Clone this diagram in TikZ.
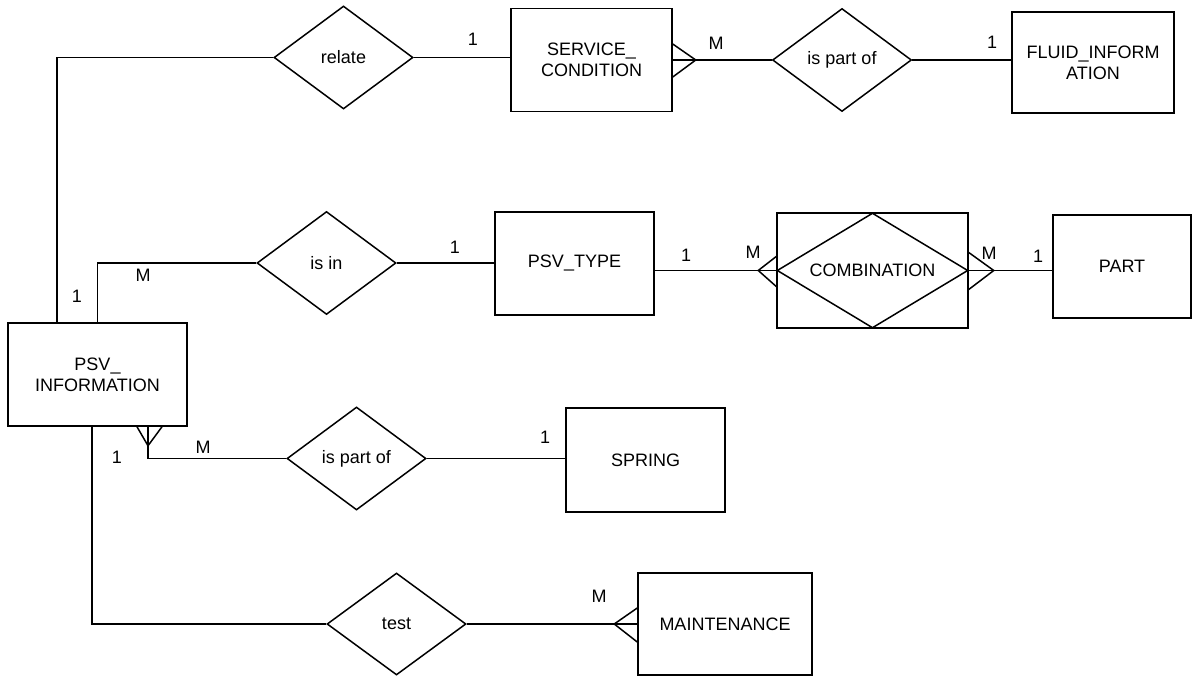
\documentclass[tikz,border=0pt]{standalone}
\usepackage{fontspec}
\setmainfont{Liberation Sans}
\usepackage{tikz}
\usetikzlibrary{shapes.geometric}

\begin{document}
\begin{tikzpicture}[x=1pt, y=1pt,
  every node/.style={font=\fontsize{18}{21}\selectfont, align=center},
  entity/.style={draw, line width=1.5pt, minimum height=103pt, inner sep=0pt},
  relation/.style={draw, diamond, line width=1.5pt, minimum width=139pt, minimum height=103pt, inner sep=0pt},
  card/.style={inner sep=0pt},
  line/.style={draw, line width=1.5pt}
]
\useasboundingbox (0,0) rectangle (1200,-676);

% entities
\node[entity, minimum width=161pt] (svc) at (591.5,-60) {SERVICE\_\\CONDITION};
\node[entity, minimum width=162pt, minimum height=101pt] (fluid) at (1093,-62.5) {FLUID\_INFORM\\ATION};
\node[entity, minimum width=159pt] (psvtype) at (574.5,-263.5) {PSV\_TYPE};
\node[entity, minimum width=191pt, minimum height=115pt] (comb) at (872.5,-270.5) {};
\node[entity, minimum width=138pt] (part) at (1122,-266.5) {PART};
\node[entity, minimum width=179pt] (psvinfo) at (97.5,-374.5) {PSV\_\\INFORMATION};
\node[entity, minimum width=159pt, minimum height=104pt] (spring) at (645.5,-460) {SPRING};
\node[entity, minimum width=174pt, minimum height=102pt] (maint) at (725,-624) {MAINTENANCE};

% relationships
\node[relation] (relate) at (343.5,-57.5) {relate};
\node[relation] (partofa) at (842,-60) {is part of};
\node[relation] (isin) at (326.5,-263) {is in};
\node[relation, aspect=1.66, minimum width=191pt, minimum height=115pt] (combrel) at (comb) {COMBINATION};
\node[relation] (partofb) at (356.5,-458.5) {is part of};
\node[relation, minimum height=102pt] (test) at (396.5,-624) {test};

% connectors
\draw[line] ([xshift=-40.5pt]psvinfo.north) |- (relate.west);
\draw[line] (relate.east) -- (relate.east -| svc.west);
\draw[line] (svc.east) -- (partofa.west);
\draw[line] (partofa.east) -- (partofa.east -| fluid.west);
\draw[line] (psvinfo.north) |- (isin.west);
\draw[line] (isin.east) -- (isin.east -| psvtype.west);
\draw[line] (comb.west -| psvtype.east) -- (comb.west);
\draw[line] (comb.east) -- (comb.east -| part.west);
\draw[line] ([xshift=50.5pt]psvinfo.south) |- (partofb.west);
\draw[line] (partofb.east) -- (partofb.east -| spring.west);
\draw[line] ([xshift=-5.5pt]psvinfo.south) |- (test.west);
\draw[line] (test.east) -- (test.east -| maint.west);

% crow's feet
\coordinate (svcfoot) at ([xshift=23pt]svc.east);
\draw[line] ([yshift=16pt]svc.east) -- (svcfoot) -- ([yshift=-17pt]svc.east);
\coordinate (comblfoot) at ([xshift=-18pt]comb.west);
\draw[line] ([yshift=14pt]comb.west) -- (comblfoot) -- ([yshift=-16pt]comb.west);
\coordinate (combrfoot) at ([xshift=25pt]comb.east);
\draw[line] ([yshift=18pt]comb.east) -- (combrfoot) -- ([yshift=-19pt]comb.east);
\coordinate (infofoot) at ([xshift=50.5pt, yshift=-19pt]psvinfo.south);
\draw[line] ([xshift=39.5pt]psvinfo.south) -- (infofoot) -- ([xshift=64.5pt]psvinfo.south);
\coordinate (maintfoot) at ([xshift=-23pt]maint.west);
\draw[line] ([yshift=16pt]maint.west) -- (maintfoot) -- ([yshift=-18pt]maint.west);

% cardinalities
\node[card] (relate-1) at (473,-39) {1};
\node[card] (svc-M) at (716,-43) {M};
\node[card] (fluid-1) at (992,-42) {1};
\node[card] (info-1a) at (77,-296) {1};
\node[card] (info-Ma) at (143,-275) {M};
\node[card] (type-1a) at (455,-247) {1};
\node[card] (type-1b) at (686,-255) {1};
\node[card] (comb-Ma) at (753,-252) {M};
\node[card] (comb-Mb) at (989,-253) {M};
\node[card] (part-1) at (1038,-256) {1};
\node[card] (info-Mb) at (203,-447) {M};
\node[card] (info-1b) at (117,-457) {1};
\node[card] (spring-1) at (545,-437) {1};
\node[card] (maint-M) at (599,-596) {M};
\end{tikzpicture}
\end{document}
